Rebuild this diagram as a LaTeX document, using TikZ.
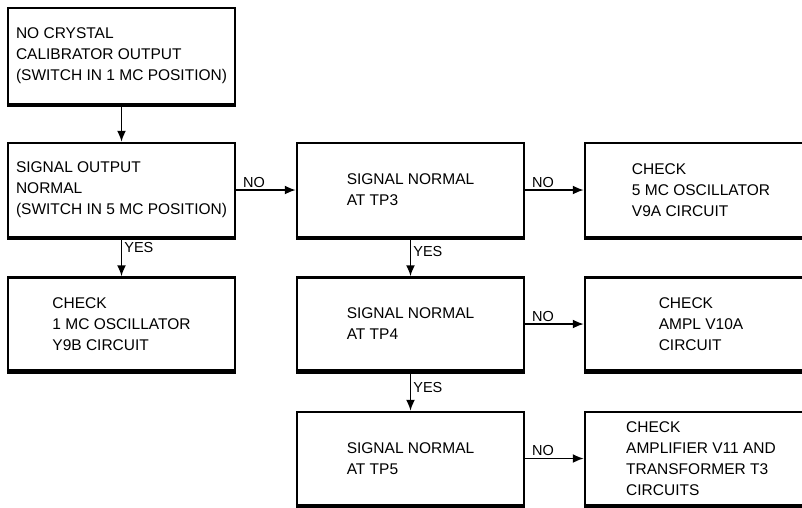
\documentclass[tikz,border=0pt]{standalone}
\usepackage{fontspec}
\setmainfont{Liberation Sans}
\usetikzlibrary{positioning}
\usetikzlibrary{arrows.meta}

\tikzset{
  box/.style={draw, rectangle, line width=2.5pt, align=left, inner sep=0pt,
    minimum width=227pt, minimum height=93pt,
    font=\fontsize{15.5}{21}\selectfont},
  wide/.style={minimum width=232pt},
  flow/.style={-{Latex[length=11pt,width=9pt]}, line width=1.7pt},
  lab/.style={font=\fontsize{14.5}{16}\selectfont, inner sep=2pt},
}

\begin{document}
\begin{tikzpicture}[x=1pt, y=-1pt]

% Page frame (right column runs off the sheet)
\clip (0,0) rectangle (802,507);

\def\colA{121.5}
\def\colB{410.5}
\def\colC{701}

%---------------------------------------
% Left column
%---------------------------------------
\node[box, minimum height=96pt] (nocal) at (\colA,56)
  {NO CRYSTAL\\CALIBRATOR OUTPUT\\(SWITCH IN 1 MC POSITION)};
\node[box, minimum height=94pt] (sigout) at (\colA,190)
  {SIGNAL OUTPUT\\NORMAL\\(SWITCH IN 5 MC POSITION)};
\node[box] (chkY9B) at (\colA,324)
  {CHECK\\1 MC OSCILLATOR\\Y9B CIRCUIT};

%---------------------------------------
% Middle column: test points
%---------------------------------------
\node[box, minimum height=94pt] (tp3) at (\colB,190) {SIGNAL NORMAL\\AT TP3};
\node[box] (tp4) at (\colB,324) {SIGNAL NORMAL\\AT TP4};
\node[box] (tp5) at (\colB,458.5) {SIGNAL NORMAL\\AT TP5};

%---------------------------------------
% Right column: checks
%---------------------------------------
\node[box, wide, minimum height=94pt] (chkV9A) at (\colC,190)
  {CHECK\\5 MC OSCILLATOR\\V9A CIRCUIT};
\node[box, wide] (chkV10A) at (\colC,324)
  {CHECK\\AMPL V10A\\CIRCUIT};
\node[box, wide] (chkV11) at (\colC,458.5)
  {CHECK\\AMPLIFIER V11 AND\\TRANSFORMER T3\\CIRCUITS};

% heavy bottom edges
\foreach \n in {nocal,sigout,chkY9B,tp3,tp4,tp5,chkV9A,chkV10A,chkV11}
  \draw[line width=4pt] (\n.south west) -- (\n.south east);

%---------------------------------------
% Connectors
%---------------------------------------
\draw[flow] (nocal) -- (sigout);
\draw[flow] (sigout) -- node[lab, right, pos=0.25] {YES} (chkY9B);
\draw[flow] (sigout) -- node[lab, above right, pos=0, xshift=4pt] {NO} (tp3);

\draw[flow] (tp3) -- node[lab, right, pos=0.35] {YES} (tp4);
\draw[flow] (tp4) -- node[lab, right, pos=0.4] {YES} (tp5);

\draw[flow] (tp3) -- node[lab, above right, pos=0, xshift=4pt] {NO} (chkV9A);
\draw[flow] (tp4) -- node[lab, above right, pos=0, xshift=4pt] {NO} (chkV10A);
\draw[flow] (tp5) -- node[lab, above right, pos=0, xshift=4pt] {NO} (chkV11);

\end{tikzpicture}
\end{document}
